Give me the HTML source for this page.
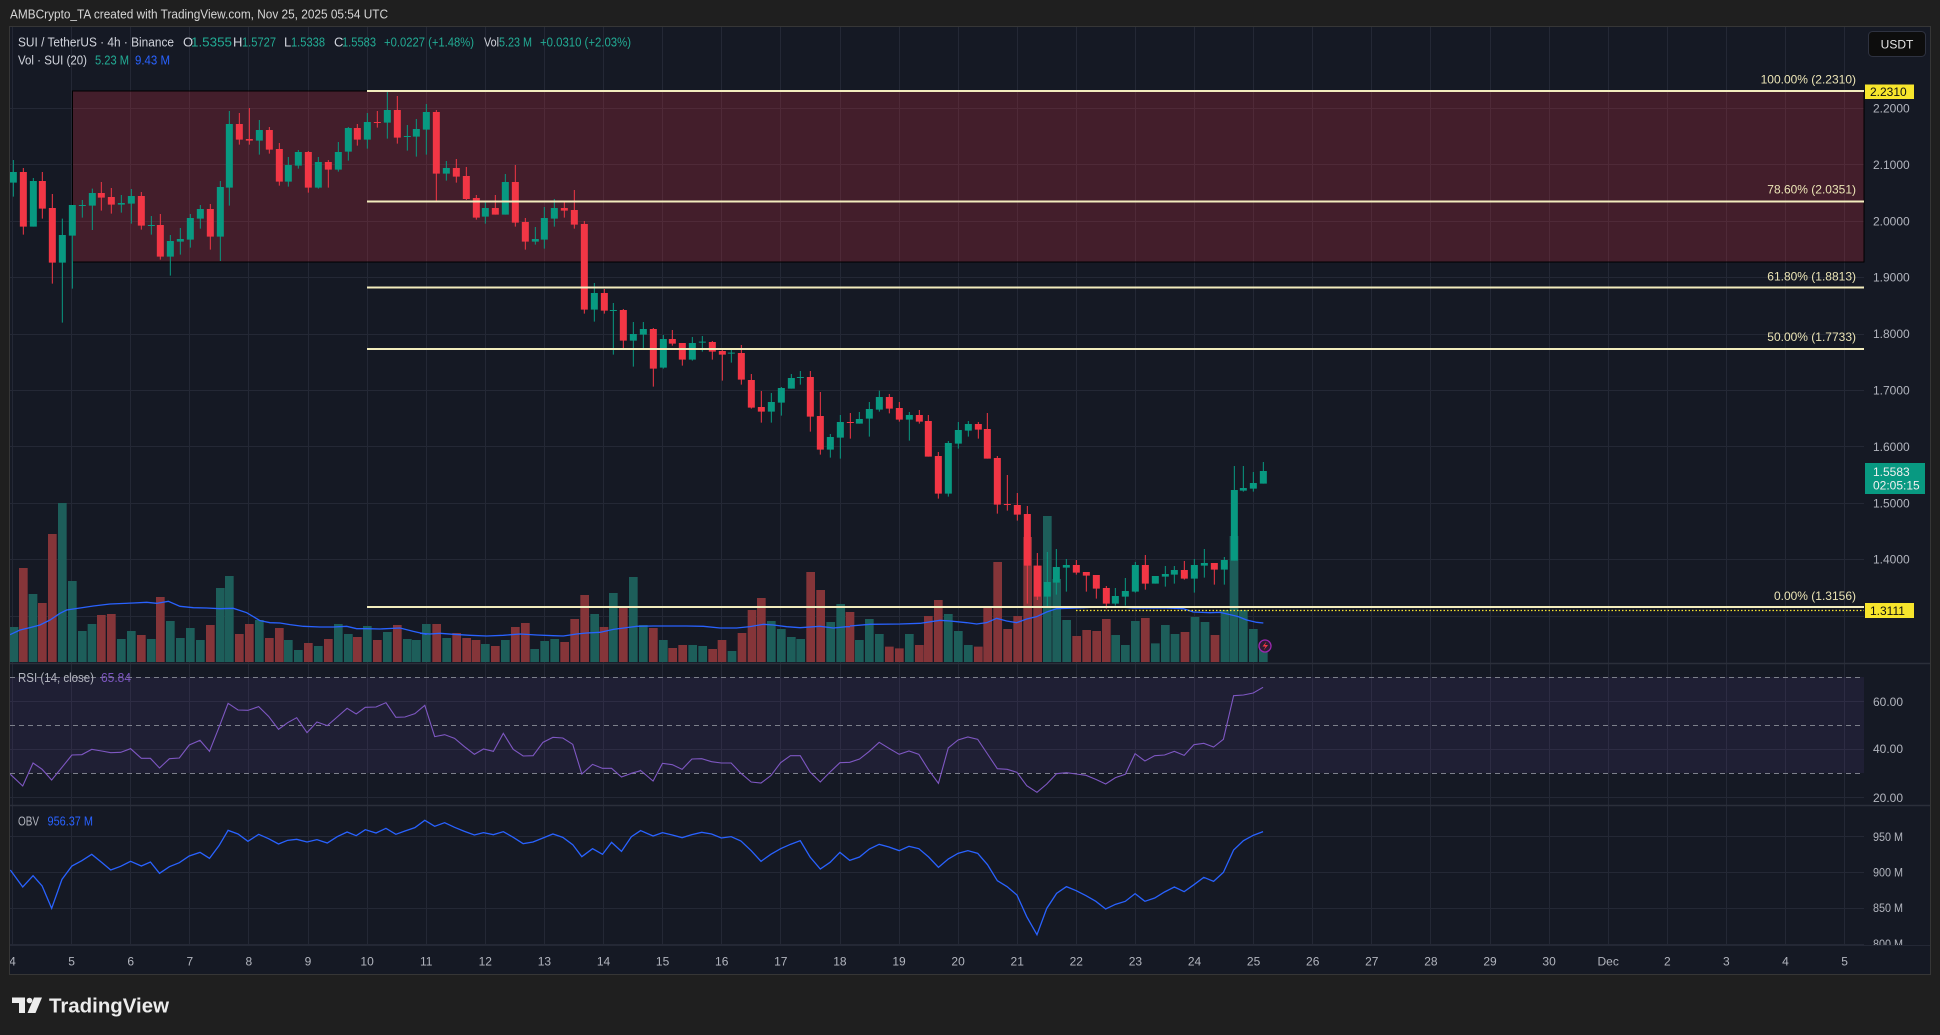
<!DOCTYPE html>
<html><head><meta charset="utf-8"><style>
html,body{margin:0;padding:0;background:#1f1f1f;}
svg{display:block;}
</style></head><body>
<svg width="1940" height="1035" xmlns="http://www.w3.org/2000/svg" font-family="'Liberation Sans', Arial, sans-serif">
<rect width="1940" height="1035" fill="#1f1f1f"/>
<rect x="9.5" y="26.5" width="1921" height="948" fill="#151924" stroke="#363636"/>

<!-- header -->
<text x="10" y="18.5" font-size="13" fill="#d6d6d6" textLength="378" lengthAdjust="spacingAndGlyphs">AMBCrypto_TA created with TradingView.com, Nov 25, 2025 05:54 UTC</text>

<!-- grid -->
<path d="M12.5 27V945M71.5 27V945M130.5 27V945M189.5 27V945M248.5 27V945M308.5 27V945M367.5 27V945M426.5 27V945M485.5 27V945M544.5 27V945M603.5 27V945M662.5 27V945M721.5 27V945M780.5 27V945M840.5 27V945M899.5 27V945M958.5 27V945M1017.5 27V945M1076.5 27V945M1135.5 27V945M1194.5 27V945M1253.5 27V945M1312.5 27V945M1371.5 27V945M1430.5 27V945M1490.5 27V945M1549.5 27V945M1608.5 27V945M1667.5 27V945M1726.5 27V945M1785.5 27V945M1844.5 27V945" stroke="#242835" stroke-width="1" fill="none"/>
<path d="M10 108.5H1864M10 164.5H1864M10 221.5H1864M10 277.5H1864M10 334.5H1864M10 390.5H1864M10 446.5H1864M10 503.5H1864M10 559.5H1864M10 616.5H1864M10 701.5H1864M10 749.5H1864M10 797.5H1864M10 836.5H1864M10 872.5H1864M10 908.5H1864M10 944.5H1864" stroke="#242835" stroke-width="1" fill="none"/>

<!-- zone box -->
<rect x="72.5" y="91" width="1791.5" height="171" fill="#f23645" fill-opacity="0.21" stroke="#000" stroke-width="1"/>

<!-- volume bars -->
<g transform="translate(0,490) scale(0.333333)">
<path fill="#1d5e5a" d="M29 411h26V516h-26ZM86 312h26V516h-26ZM174 39h26V516h-26ZM204 273h26V516h-26ZM234 423h26V516h-26ZM263 402h26V516h-26ZM351 447h26V516h-26ZM381 423h26V516h-26ZM441 447h26V516h-26ZM498 393h26V516h-26ZM528 444h26V516h-26ZM558 414h26V516h-26ZM588 450h26V516h-26ZM648 294h26V516h-26ZM675 258h26V516h-26ZM765 390h26V516h-26ZM852 450h26V516h-26ZM882 480h26V516h-26ZM942 468h26V516h-26ZM1002 402h26V516h-26ZM1032 432h26V516h-26ZM1089 408h26V516h-26ZM1149 426h26V516h-26ZM1209 447h26V516h-26ZM1236 450h26V516h-26ZM1266 402h26V516h-26Z"/>
<path fill="#853539" d="M57 234h26V516h-26ZM114 339h26V516h-26ZM144 132h26V516h-26ZM291 375h26V516h-26ZM321 372h26V516h-26ZM411 435h26V516h-26ZM468 321h26V516h-26ZM618 405h26V516h-26ZM705 432h26V516h-26ZM735 402h26V516h-26ZM795 444h26V516h-26ZM825 414h26V516h-26ZM912 459h26V516h-26ZM972 447h26V516h-26ZM1059 441h26V516h-26ZM1119 450h26V516h-26ZM1179 405h26V516h-26Z"/>
<polyline fill="none" stroke="#2962ff" stroke-width="1.3" vector-effect="non-scaling-stroke" points="30,434 60,420 90,413 120,405 150,390 180,370 200,360 240,354 280,348 330,342 400,339 440,337 470,340 505,334 540,349 580,353 620,354 660,356 700,355 740,368 780,392 810,398 840,399 870,404 910,409 960,411 1000,411 1040,409 1070,416 1100,416 1140,417 1200,414 1240,424 1280,433"/>
</g>
<g transform="translate(420,490) scale(0.333333)">
<path fill="#1d5e5a" d="M67 444h26V516h-26ZM183 462h26V516h-26ZM243 450h26V516h-26ZM331 477h26V516h-26ZM361 453h26V516h-26ZM391 447h26V516h-26ZM511 372h26V516h-26ZM567 309h26V516h-26ZM627 261h26V516h-26ZM657 405h26V516h-26ZM717 450h26V516h-26ZM805 465h26V516h-26ZM835 468h26V516h-26ZM923 483h26V516h-26ZM1041 393h26V516h-26ZM1071 417h26V516h-26ZM1101 441h26V516h-26ZM1129 447h26V516h-26ZM1219 396h26V516h-26ZM1249 342h26V516h-26ZM1305 450h26V516h-26Z"/>
<path fill="#853539" d="M37 402h26V516h-26ZM97 429h26V516h-26ZM127 444h26V516h-26ZM155 450h26V516h-26ZM213 468h26V516h-26ZM273 411h26V516h-26ZM303 399h26V516h-26ZM421 456h26V516h-26ZM451 387h26V516h-26ZM481 315h26V516h-26ZM539 411h26V516h-26ZM597 354h26V516h-26ZM687 414h26V516h-26ZM745 474h26V516h-26ZM775 465h26V516h-26ZM865 477h26V516h-26ZM893 450h26V516h-26ZM953 429h26V516h-26ZM983 360h26V516h-26ZM1011 324h26V516h-26ZM1159 246h26V516h-26ZM1189 300h26V516h-26ZM1277 366h26V516h-26Z"/>
<polyline fill="none" stroke="#2962ff" stroke-width="1.3" vector-effect="non-scaling-stroke" points="0,430 30,432 60,430 100,433 150,436 200,438 250,436 300,432 350,435 400,437 430,438 470,432 500,429 540,427 580,418 620,413 650,409 700,408 750,408 800,408 850,409 900,414 950,414 990,410 1030,403 1060,405 1100,410 1140,413 1200,409 1240,414 1280,410 1290,410"/>
</g>
<g transform="translate(850,320) scale(0.333333)">
<path fill="#1d5e5a" d="M45 897h26V1026h-26ZM75 942h26V1026h-26ZM165 942h26V1026h-26ZM282 882h26V1026h-26ZM312 933h26V1026h-26ZM342 975h26V1026h-26ZM579 588h26V1026h-26ZM607 777h26V1026h-26ZM637 900h26V1026h-26ZM784 945h26V1026h-26ZM813 975h26V1026h-26ZM843 903h26V1026h-26ZM903 970h26V1026h-26ZM933 915h26V1026h-26ZM962 942h26V1026h-26ZM1022 891h26V1026h-26ZM1052 906h26V1026h-26ZM1112 870h26V1026h-26ZM1139 648h26V1026h-26ZM1167 870h26V1026h-26ZM1197 927h26V1026h-26ZM1227 985h26V1026h-26Z"/>
<path fill="#853539" d="M105 980h26V1026h-26ZM135 985h26V1026h-26ZM195 975h26V1026h-26ZM222 888h26V1026h-26ZM252 840h26V1026h-26ZM372 980h26V1026h-26ZM400 864h26V1026h-26ZM430 726h26V1026h-26ZM460 927h26V1026h-26ZM490 888h26V1026h-26ZM520 651h26V1026h-26ZM550 737h26V1026h-26ZM667 948h26V1026h-26ZM697 930h26V1026h-26ZM727 933h26V1026h-26ZM756 897h26V1026h-26ZM873 894h26V1026h-26ZM992 936h26V1026h-26ZM1082 945h26V1026h-26Z"/>
<polyline fill="none" stroke="#2962ff" stroke-width="1.3" vector-effect="non-scaling-stroke" points="0,918 60,913 150,912 210,910 270,901 300,903 350,908 380,912 410,908 440,895 470,903 500,908 530,897 560,890 590,876 620,866 650,865 700,863 760,860 800,860 850,864 900,864 950,864 1000,866 1030,876 1080,878 1110,877 1140,884 1165,890 1190,900 1220,907 1240,909"/>
</g>

<!-- candles group A -->
<g transform="translate(0,80) scale(0.333333)">
<path stroke="#089981" stroke-width="1" vector-effect="non-scaling-stroke" fill="none" d="M40 240V350M100 294V440M187 416V728M217 375V626M247 360V413M277 326V450M364 345V398M394 327V431M454 408V464M511 465V587M541 444V524M571 402V503M601 375V446M661 303V543M688 93V377M778 120V224M865 231V320M895 210V266M955 231V326M1015 186V275M1045 141V242M1102 99V206M1162 33V176M1222 135V212M1249 117V230M1279 72V224M1339 243V302"/>
<path fill="#089981" d="M29.5 276h21V308h-21ZM89.5 303h21V440h-21ZM176.5 465h21V548h-21ZM206.5 375h21V467h-21ZM236.5 375h21V378h-21ZM266.5 339h21V377h-21ZM353.5 369h21V374h-21ZM383.5 348h21V371h-21ZM443.5 435h21V438h-21ZM500.5 483h21V530h-21ZM530.5 477h21V485h-21ZM560.5 414h21V479h-21ZM590.5 387h21V416h-21ZM650.5 321h21V470h-21ZM677.5 132h21V323h-21ZM767.5 150h21V182h-21ZM854.5 255h21V305h-21ZM884.5 216h21V257h-21ZM944.5 246h21V323h-21ZM1004.5 216h21V269h-21ZM1034.5 144h21V215h-21ZM1091.5 126h21V179h-21ZM1151.5 90h21V128h-21ZM1211.5 168h21V171h-21ZM1238.5 147h21V170h-21ZM1268.5 96h21V149h-21ZM1328.5 264h21V281h-21Z"/>
<path stroke="#f23645" stroke-width="1" vector-effect="non-scaling-stroke" fill="none" d="M70 264V464M127 276V416M157 342V611M304 306V392M334 324V401M424 336V449M481 402V539M631 372V509M718 99V194M748 84V194M808 141V221M838 189V317M925 213V338M985 240V323M1072 132V197M1132 93V143M1192 48V191M1309 90V362"/>
<path fill="#f23645" d="M59.5 276h21V440h-21ZM116.5 303h21V386h-21ZM146.5 384h21V548h-21ZM293.5 339h21V353h-21ZM323.5 351h21V374h-21ZM413.5 348h21V437h-21ZM470.5 435h21V530h-21ZM620.5 387h21V470h-21ZM707.5 132h21V179h-21ZM737.5 177h21V182h-21ZM797.5 150h21V209h-21ZM827.5 207h21V305h-21ZM914.5 216h21V323h-21ZM974.5 246h21V269h-21ZM1061.5 144h21V179h-21ZM1121.5 126h21V129h-21ZM1181.5 90h21V173h-21ZM1298.5 96h21V281h-21Z"/>
</g>
<!-- candles group B -->
<g transform="translate(440,140) scale(0.333333)">
<path stroke="#089981" stroke-width="1" vector-effect="non-scaling-stroke" fill="none" d="M136 186V251M196 102V224M286 261V314M313 201V326M343 177V260M463 429V545M520 489V644M580 546V680M610 546V626M670 585V686M757 591V662M787 588V635M874 626V668M994 759V848M1024 741V827M1054 702V746M1081 693V734M1171 882V953M1201 825V956"/>
<path fill="#089981" d="M125.5 204h21V230h-21ZM185.5 126h21V224h-21ZM275.5 297h21V305h-21ZM302.5 234h21V299h-21ZM332.5 204h21V236h-21ZM452.5 459h21V509h-21ZM509.5 510h21V513h-21ZM569.5 582h21V602h-21ZM599.5 567h21V584h-21ZM659.5 597h21V683h-21ZM746.5 609h21V659h-21ZM776.5 605h21V608h-21ZM863.5 638h21V641h-21ZM983.5 786h21V815h-21ZM1013.5 744h21V788h-21ZM1043.5 714h21V746h-21ZM1070.5 711h21V714h-21ZM1160.5 891h21V929h-21ZM1190.5 846h21V893h-21Z"/>
<path stroke="#f23645" stroke-width="1" vector-effect="non-scaling-stroke" fill="none" d="M49 57V128M79 81V180M109 165V239M166 165V224M226 75V260M256 234V329M373 183V233M403 150V266M433 243V521M493 447V521M550 507V629M640 564V740M697 570V617M727 609V677M817 603V659M847 630V722M904 615V734M934 702V806M964 753V848M1111 693V875M1141 756V944M1231 819V896"/>
<path fill="#f23645" d="M38.5 84h21V110h-21ZM68.5 108h21V177h-21ZM98.5 174h21V233h-21ZM155.5 204h21V224h-21ZM215.5 126h21V248h-21ZM245.5 246h21V305h-21ZM362.5 204h21V212h-21ZM392.5 210h21V254h-21ZM422.5 252h21V509h-21ZM482.5 459h21V512h-21ZM539.5 510h21V602h-21ZM629.5 567h21V686h-21ZM686.5 597h21V611h-21ZM716.5 609h21V659h-21ZM806.5 606h21V635h-21ZM836.5 633h21V644h-21ZM893.5 639h21V719h-21ZM923.5 720h21V803h-21ZM953.5 801h21V815h-21ZM1100.5 711h21V830h-21ZM1130.5 828h21V929h-21ZM1220.5 846h21V849h-21Z"/>
</g>
<!-- candles group C -->
<g transform="translate(850,320) scale(0.333333)">
<path stroke="#089981" stroke-width="1" vector-effect="non-scaling-stroke" fill="none" d="M28 276V311M58 246V350M88 212V275M178 276V362M295 363V530M325 306V386M355 303V350M592 696V860M619 687V824M649 717V815M796 804V857M826 774V857M856 726V818M916 768V791M946 738V800M973 738V791M1033 717V818M1063 687V773M1123 711V794M1153 438V722M1180 438V515M1210 456V515M1240 426V491"/>
<path fill="#089981" d="M17.5 297h21V311h-21ZM47.5 267h21V296h-21ZM77.5 231h21V269h-21ZM167.5 285h21V299h-21ZM284.5 369h21V521h-21ZM314.5 330h21V371h-21ZM344.5 312h21V332h-21ZM581.5 786h21V830h-21ZM608.5 741h21V788h-21ZM638.5 735h21V743h-21ZM785.5 828h21V851h-21ZM815.5 813h21V830h-21ZM845.5 735h21V815h-21ZM905.5 768h21V791h-21ZM935.5 762h21V770h-21ZM962.5 750h21V764h-21ZM1022.5 735h21V776h-21ZM1052.5 729h21V737h-21ZM1112.5 720h21V749h-21ZM1142.5 510h21V722h-21ZM1169.5 504h21V512h-21ZM1199.5 489h21V506h-21ZM1229.5 453h21V491h-21Z"/>
<path stroke="#f23645" stroke-width="1" vector-effect="non-scaling-stroke" fill="none" d="M118 222V280M148 246V305M208 270V311M235 285V410M265 396V536M385 306V356M412 279V416M442 408V581M472 465V572M502 519V602M532 558V851M562 699V840M679 720V764M709 756V815M739 765V836M769 798V866M886 705V809M1003 723V779M1093 729V794"/>
<path fill="#f23645" d="M107.5 231h21V266h-21ZM137.5 264h21V299h-21ZM197.5 285h21V305h-21ZM224.5 303h21V410h-21ZM254.5 408h21V521h-21ZM374.5 312h21V329h-21ZM401.5 327h21V416h-21ZM431.5 414h21V554h-21ZM461.5 552h21V555h-21ZM491.5 555h21V584h-21ZM521.5 582h21V737h-21ZM551.5 737h21V830h-21ZM668.5 735h21V758h-21ZM698.5 756h21V767h-21ZM728.5 765h21V806h-21ZM758.5 804h21V851h-21ZM875.5 735h21V791h-21ZM992.5 750h21V776h-21ZM1082.5 729h21V749h-21Z"/>
</g>

<!-- fib lines -->
<path d="M367 91H1864M367 201.5H1864M367 287.5H1864M367 349H1864M367 607H1864" stroke="#f2ecbd" stroke-width="2" fill="none"/>
<path d="M1076 610.5H1864" stroke="#f5e12f" stroke-width="1.2" stroke-dasharray="1.5 2" fill="none"/>
<g font-size="12" fill="#ebe4b5" text-anchor="end">
<text x="1856" y="83.5">100.00% (2.2310)</text>
<text x="1856" y="193.5">78.60% (2.0351)</text>
<text x="1856" y="280.5">61.80% (1.8813)</text>
<text x="1856" y="341">50.00% (1.7733)</text>
<text x="1856" y="600">0.00% (1.3156)</text>
</g>

<!-- alert icon -->
<circle cx="1265" cy="646" r="6" fill="#2a1d33" stroke="#9c27b0" stroke-width="1.3"/>
<path d="M1266.5 641.5L1262.5 646.5H1265.5L1263.5 650.5L1268 645H1265Z" fill="#f23645"/>

<!-- legend -->
<g font-size="13">
<text x="18" y="46.5" fill="#d1d4dc" textLength="156" lengthAdjust="spacingAndGlyphs">SUI / TetherUS · 4h · Binance</text>
<text x="183" y="46.5" fill="#d1d4dc">O</text><text x="191" y="46.5" fill="#22ab94" textLength="41" lengthAdjust="spacingAndGlyphs">1.5355</text>
<text x="233" y="46.5" fill="#d1d4dc">H</text><text x="242" y="46.5" fill="#22ab94" textLength="34" lengthAdjust="spacingAndGlyphs">1.5727</text>
<text x="284" y="46.5" fill="#d1d4dc">L</text><text x="291" y="46.5" fill="#22ab94" textLength="34" lengthAdjust="spacingAndGlyphs">1.5338</text>
<text x="334" y="46.5" fill="#d1d4dc">C</text><text x="342" y="46.5" fill="#22ab94" textLength="34" lengthAdjust="spacingAndGlyphs">1.5583</text>
<text x="384" y="46.5" fill="#22ab94" textLength="90" lengthAdjust="spacingAndGlyphs">+0.0227 (+1.48%)</text>
<text x="484" y="46.5" fill="#d1d4dc" textLength="15" lengthAdjust="spacingAndGlyphs">Vol</text><text x="499" y="46.5" fill="#22ab94" textLength="33" lengthAdjust="spacingAndGlyphs">5.23 M</text>
<text x="540" y="46.5" fill="#22ab94" textLength="91" lengthAdjust="spacingAndGlyphs">+0.0310 (+2.03%)</text>
<text x="18" y="64.5" fill="#d1d4dc" textLength="69" lengthAdjust="spacingAndGlyphs">Vol · SUI (20)</text>
<text x="95" y="64.5" fill="#22ab94" textLength="34" lengthAdjust="spacingAndGlyphs">5.23 M</text>
<text x="135" y="64.5" fill="#2962ff" textLength="35" lengthAdjust="spacingAndGlyphs">9.43 M</text>
</g>

<!-- price axis -->
<g font-size="12" fill="#b2b5be">
<text x="1873" y="112.5">2.2000</text>
<text x="1873" y="169">2.1000</text>
<text x="1873" y="225.5">2.0000</text>
<text x="1873" y="281.5">1.9000</text>
<text x="1873" y="338">1.8000</text>
<text x="1873" y="394.5">1.7000</text>
<text x="1873" y="451">1.6000</text>
<text x="1873" y="507.5">1.5000</text>
<text x="1873" y="563.5">1.4000</text>
</g>
<rect x="1868.5" y="31.5" width="57" height="25" rx="4" fill="#0d0d0d" stroke="#2e3240"/>
<text x="1897" y="48.5" font-size="12" fill="#e6e6e6" text-anchor="middle">USDT</text>
<rect x="1865" y="84.5" width="49" height="14.5" fill="#f7e52c"/>
<text x="1870" y="96" font-size="12" fill="#111">2.2310</text>
<rect x="1865" y="463" width="60" height="31" fill="#089981"/>
<text x="1873" y="476" font-size="12" fill="#f0f0f0">1.5583</text>
<text x="1873" y="489.5" font-size="12" fill="#f0f0f0">02:05:15</text>
<rect x="1865" y="603" width="49" height="15" fill="#f7e52c"/>
<text x="1870" y="615" font-size="12" fill="#111">1.3111</text>

<!-- pane separators -->
<path d="M10 663.5H1930M10 805.5H1930" stroke="#2b2f3a" stroke-width="1.5" fill="none"/>

<!-- RSI pane -->
<rect x="10" y="677" width="1854" height="96" fill="#7e57c2" fill-opacity="0.1"/>
<path d="M10 677.5H1864M10 725.5H1864M10 773.5H1864" stroke="#7d808b" stroke-width="1" stroke-dasharray="5 4" fill="none"/>
<g transform="translate(0,640) scale(0.413223,0.333333)">
<polyline fill="none" stroke="#7e57c2" stroke-width="1.1" vector-effect="non-scaling-stroke" points="25,403 55,438 80,369 102,388 125,420 150,382 174,345 198,344 222,328 246,333 268,338 292,337 316,326 342,355 364,355 386,384 410,356 434,354 458,315 484,301 507,334 530,262 552,190 576,210 600,211 626,200 650,229 674,268 696,248 718,233 743,278 767,246 792,257 816,231 840,205 862,222 884,202 910,201 934,188 958,232 980,231 1004,221 1028,196 1052,290 1076,284 1100,295 1124,320 1148,343 1170,327 1194,334 1218,280 1242,328 1266,348 1290,347 1314,307 1338,292 1362,294 1386,313 1408,402 1434,373 1458,385 1480,385 1504,411 1528,400 1550,392"/>
<polyline fill="none" stroke="#2962ff" stroke-width="1.3" vector-effect="non-scaling-stroke" points="25,690 55,741 80,707 102,738 125,805 150,718 174,678 198,662 222,643 246,667 268,690 292,679 316,664 342,678 364,666 386,700 410,680 434,668 458,648 484,637 507,655 530,617 552,571 576,582 600,604 626,583 650,596 674,612 696,601 718,598 743,606 767,599 792,609 816,590 840,576 862,587 884,569 910,579 934,565 958,583 980,573 1004,563 1028,541 1052,559 1076,548 1100,562 1124,574 1148,585 1170,578 1194,584 1218,575 1242,592 1266,611 1290,606 1314,594 1338,582 1362,592 1386,614 1408,650 1434,626 1458,643 1480,607 1504,634 1528,590 1550,572"/>
</g>
<g transform="translate(640,660) scale(0.408831,0.333333)">
<polyline fill="none" stroke="#7e57c2" stroke-width="1.1" vector-effect="non-scaling-stroke" points="0,330 32,363 55,310 79,314 103,328 127,297 151,296 175,305 199,309 223,309 247,340 272,366 296,369 320,347 344,308 368,287 392,287 416,336 441,366 465,336 489,308 513,307 537,297 561,274 585,247 609,265 634,283 658,273 682,283 706,330 730,370 754,264 778,240 802,231 826,238 850,282 874,326 898,328 922,337 946,377 971,397 995,372 1019,341 1043,338 1067,342 1091,346 1115,358 1139,372 1163,353 1187,343 1211,281 1235,303 1259,287 1283,285 1307,274 1331,286 1355,254 1379,250 1403,261 1427,238 1452,107 1476,105 1500,99 1524,82"/>
<polyline fill="none" stroke="#2962ff" stroke-width="1.3" vector-effect="non-scaling-stroke" points="0,511 32,528 55,518 79,525 103,533 127,524 151,517 175,522 199,534 223,530 247,543 272,572 296,604 320,583 344,566 368,553 392,542 416,591 441,627 465,607 489,577 513,601 537,591 561,567 585,553 609,561 634,572 658,559 682,566 706,591 730,622 754,597 778,580 802,572 826,580 850,614 874,662 898,680 922,705 946,770 971,824 995,745 1019,700 1043,680 1067,692 1091,707 1115,724 1139,747 1163,733 1187,724 1211,701 1235,724 1259,714 1283,696 1307,681 1331,695 1355,674 1379,652 1403,664 1427,637 1452,570 1476,542 1500,526 1524,515"/>
</g>
<g font-size="12.5">
<text x="18" y="682" fill="#b2b5be" textLength="76" lengthAdjust="spacingAndGlyphs">RSI (14, close)</text>
<text x="101" y="682" fill="#7e57c2" textLength="30" lengthAdjust="spacingAndGlyphs">65.84</text>
<text x="18" y="825.5" fill="#b2b5be" textLength="21" lengthAdjust="spacingAndGlyphs">OBV</text>
<text x="47.5" y="825.5" fill="#2962ff" textLength="45.5" lengthAdjust="spacingAndGlyphs">956.37 M</text>
</g>
<g font-size="12" fill="#b2b5be">
<text x="1873" y="706">60.00</text>
<text x="1873" y="753">40.00</text>
<text x="1873" y="802">20.00</text>
<text x="1873" y="841" textLength="30" lengthAdjust="spacingAndGlyphs">950 M</text>
<text x="1873" y="876.5" textLength="30" lengthAdjust="spacingAndGlyphs">900 M</text>
<text x="1873" y="912" textLength="30" lengthAdjust="spacingAndGlyphs">850 M</text>
<text x="1873" y="948" textLength="30" lengthAdjust="spacingAndGlyphs">800 M</text>
</g>

<!-- time axis -->
<rect x="10" y="946" width="1920" height="28" fill="#151924"/>
<path d="M10 945.5H1930" stroke="#242835" stroke-width="1"/>
<g font-size="12" fill="#b2b5be" text-anchor="middle">
<text x="12.5" y="965.5">4</text>
<text x="71.6" y="965.5">5</text>
<text x="130.7" y="965.5">6</text>
<text x="189.8" y="965.5">7</text>
<text x="248.9" y="965.5">8</text>
<text x="308" y="965.5">9</text>
<text x="367.1" y="965.5">10</text>
<text x="426.2" y="965.5">11</text>
<text x="485.3" y="965.5">12</text>
<text x="544.4" y="965.5">13</text>
<text x="603.5" y="965.5">14</text>
<text x="662.6" y="965.5">15</text>
<text x="721.7" y="965.5">16</text>
<text x="780.8" y="965.5">17</text>
<text x="839.9" y="965.5">18</text>
<text x="899" y="965.5">19</text>
<text x="958.1" y="965.5">20</text>
<text x="1017.2" y="965.5">21</text>
<text x="1076.3" y="965.5">22</text>
<text x="1135.4" y="965.5">23</text>
<text x="1194.5" y="965.5">24</text>
<text x="1253.6" y="965.5">25</text>
<text x="1312.7" y="965.5">26</text>
<text x="1371.8" y="965.5">27</text>
<text x="1430.9" y="965.5">28</text>
<text x="1490" y="965.5">29</text>
<text x="1549.1" y="965.5">30</text>
<text x="1608.2" y="965.5">Dec</text>
<text x="1667.3" y="965.5">2</text>
<text x="1726.4" y="965.5">3</text>
<text x="1785.5" y="965.5">4</text>
<text x="1844.6" y="965.5">5</text>
</g>
<rect x="9.5" y="26.5" width="1921" height="948" fill="none" stroke="#363636"/>

<!-- footer logo -->
<g fill="#ececec">
<path d="M12 997.5H25V1013H19V1003H12Z"/>
<circle cx="29.5" cy="1000.5" r="2.8"/>
<path d="M34 997.5H42L35.5 1013H27.5Z"/>
</g>
<text x="49" y="1012.5" font-size="20" font-weight="bold" fill="#ececec" textLength="120" lengthAdjust="spacingAndGlyphs">TradingView</text>
</svg>
</body></html>
